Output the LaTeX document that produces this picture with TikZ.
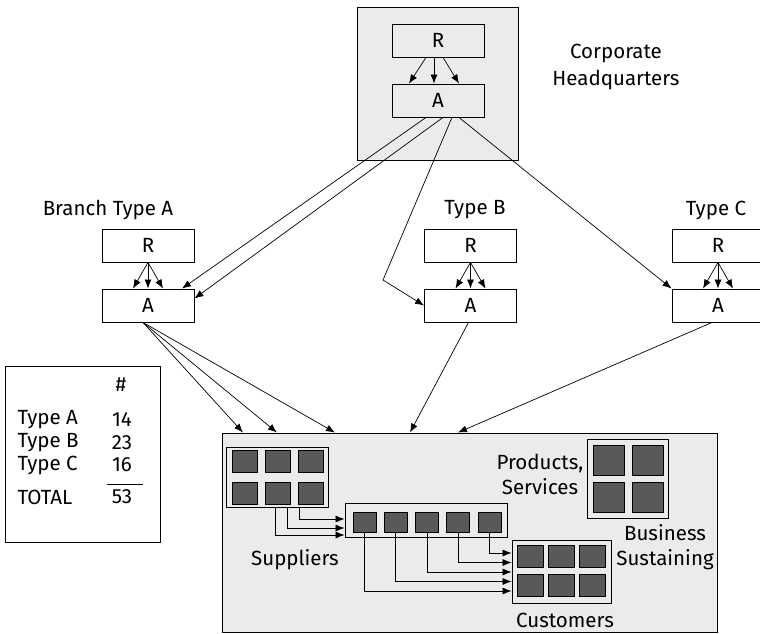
\documentclass[tikz,border=0pt]{standalone}
\usepackage{fontspec}
\setmainfont{Fira Sans}
\usetikzlibrary{arrows.meta}
\definecolor{panel}{HTML}{EBEBEB}
\definecolor{cell}{HTML}{595959}
\begin{document}
\begin{tikzpicture}[x=1pt,y=-1pt,font=\fontsize{20.5}{25}\selectfont,
  box/.style={draw,line width=.9pt,minimum width=92,minimum height=33,inner sep=0},
  panelbox/.style={draw,line width=.9pt,fill=panel,inner sep=0},
  group/.style={draw,line width=.9pt,inner sep=0},
  sq/.style={draw,line width=.9pt,fill=cell,inner sep=0},
  arr/.style={-{Latex[length=9pt,width=7pt]},line width=.7pt}]
  \useasboundingbox (0,0) rectangle (760,634);
  \clip (0,0) rectangle (760,634);
  % headquarters
  \node[panelbox,minimum width=161,minimum height=153] (hq) at (437.5,83.5) {};
  \node[box] (hqR) at (438,40.5) {R};
  \node[box] (hqA) at (438,100.5) {A};
  \foreach \s/\e in {-12/-29,-4/-4,5/21}
    \draw[arr] ([xshift=\s]hqR.south) -- ([xshift=\e]hqA.north);
  \node[align=center] (lblHQ) at (616,67) {Corporate\\[2pt]Headquarters};
  % branches
  \foreach \n/\x in {a/148,b/470.5,c/718}{
    \node[box] (R\n) at (\x,245.5) {R};
    \node[box] (A\n) at (\x,305.5) {A};
    \foreach \d in {-15,0,15}
      \draw[arr] (R\n.south) -- ([xshift=\d]A\n.north);
  }
  \node (lblA) at (108,210) {Branch Type A};
  \node (lblB) at (475,210) {Type B};
  \node (lblC) at (716,210) {Type C};
  \coordinate (bend) at (383,280);
  \draw[arr] ([xshift=-12]hqA.south) -- ([xshift=34]Aa.north);
  \draw[arr] ([xshift=5]hqA.south) -- ([yshift=7]Aa.east);
  \draw[arr] ([xshift=14]hqA.south) -- (bend) -- (Ab.west);
  \draw[arr] ([xshift=21]hqA.south) -- (Ac.north west);
  % counts
  \node[group,minimum width=155,minimum height=176] (tally) at (82.5,454) {};
  \node (hash) at (121,385) {\#};
  \foreach \t/\v/\y in {Type A/14/420,Type B/23/443,Type C/16/465,TOTAL/53/497}{
    \node[anchor=west] (t\v) at (14,\y) {\t};
    \node (n\v) at (122,\y) {\v};
  }
  \draw[line width=.8pt] (107,484) -- (143,484);
  % business site
  \node[panelbox,minimum width=495,minimum height=199] (site) at (469.5,532.5) {};
  \foreach \d in {-226.5,-192.5,-134.5}
    \draw[arr] ([xshift=-5]Aa.south) -- ([xshift=\d]site.north);
  \draw[arr] ([xshift=-2]Ab.south) -- ([xshift=-59.5]site.north);
  \draw[arr] ([xshift=-6]Ac.south) -- ([xshift=-11.5]site.north);
  \node[group,minimum width=102,minimum height=60] (sup) at (277,477) {};
  \foreach \x in {245,278,311}
    \foreach \y in {461,493}
      \node[sq,minimum width=25,minimum height=22] (sup-\x-\y) at (\x,\y) {};
  \node[group,minimum width=162,minimum height=34] (flow) at (426,520) {};
  \foreach \i in {1,...,5}
    \node[sq,minimum width=23,minimum height=20] (f\i) at ({364.5+31.25*(\i-1)},522) {};
  \node[group,minimum width=99,minimum height=63] (cust) at (561.5,571.5) {};
  \foreach \x in {530,561,592}
    \foreach \y in {556,585.5}
      \node[sq,minimum width=26,minimum height=22] (cust-\x-\y) at (\x,\y) {};
  \node[group,minimum width=81,minimum height=79] (prod) at (627.5,478.5) {};
  \foreach \x in {608.5,647.5}
    \foreach \y in {460,497.5}
      \node[sq,minimum width=31,minimum height=30] (prod-\x-\y) at (\x,\y) {};
  \foreach \d/\e in {-2/-15,10/-8,22/1}
    \draw[arr] ([xshift=\d]sup.south) |- ([yshift=\e]flow.west);
  \foreach \i in {1,...,5}
    \draw[arr] (f\i.south) |- ([yshift={-19.5+9.5*(\i-1)}]cust.west);
  \node (lblSup) at (295,560) {Suppliers};
  \node (lblCust) at (565,620) {Customers};
  \node[align=center] (lblProd) at (540,474.5) {Products,\\Services};
  \node[align=center] (lblBiz) at (665,547.5) {Business\\Sustaining};
\end{tikzpicture}
\end{document}
